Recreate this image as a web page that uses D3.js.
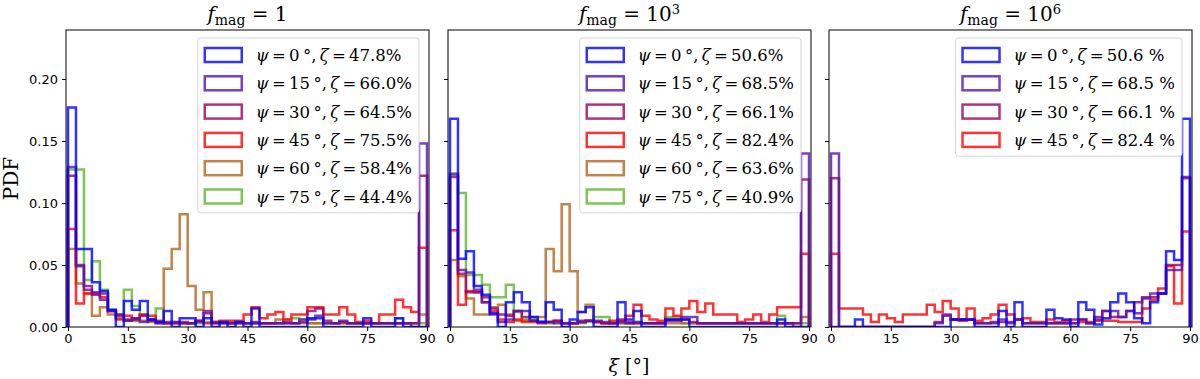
<!DOCTYPE html>
<html lang="en">
<head>
<meta charset="UTF-8">
<title>PDF of xi for three values of f_mag</title>
<style>
  html, body { margin: 0; padding: 0; background: #fff; }
  svg { display: block; }
  .tick text { font-family: "DejaVu Sans", sans-serif; font-size: 13px; fill: #000; }
  .tick line { stroke: #000; }
  .math { font-family: "DejaVu Serif", serif; fill: #000; }
</style>
</head>
<body>
<svg id="chart" width="1200" height="379"></svg>
<script src="https://cdn.jsdelivr.net/npm/d3@7"></script>
<script>
// histogram bins: 2 degree wide, 0..90
const binEdges = d3.range(0, 92, 2);

// f_mag = 1
const mag1_psi0  = [.177,.063,.063,.036,.029,.014,0,.021,.014,.021,.006,.004,.013,0,.007,.007,0,.007,0,.004,0,.004,0,.015,0,0,0,0,0,0,.007,.007,0,0,0,0,0,.007,0,0,0,.007,0,0,0];
const mag1_psi15 = [.129,.049,.033,.028,.022,.013,.009,.005,.007,.004,.006,.003,.004,.003,.003,.003,.004,.011,.003,.003,.003,.004,.003,.003,.003,.003,.003,.003,.003,.006,.006,.009,.003,.003,.005,.003,.003,.003,.003,.003,.003,.003,.003,0,.148];
const mag1_psi30 = [.122,.05,.03,.026,.027,.013,.01,.006,.006,.009,.005,.004,.003,.004,.004,.003,.005,.013,.004,.003,.003,.003,.003,.004,.003,.003,.003,.004,.003,.004,.013,.015,.005,.003,.004,.003,.003,.003,.003,.003,.003,.003,.003,.003,.122];
const mag1_psi45 = [.079,.019,.027,.027,.024,.013,.006,.009,.007,.01,.009,.005,.003,.003,.003,.003,.005,.003,.003,.005,.005,.005,.01,.016,.007,.01,.012,.006,.01,.01,.016,.016,.01,.01,.016,.01,.004,.005,.003,.01,.01,.022,.016,.012,.064];
const mag1_psi60 = [.063,.035,.027,.009,.016,.01,.007,.005,.005,.005,.004,.003,.047,.063,.091,.033,.014,.028,.004,.004,.003,.003,.003,.003,.003,.003,.006,.003,.003,.003,.003,.003,.003,.003,.003,.003,.003,.003,.003,.003,.003,.003,.003,.003,.01];
const mag1_psi75 = [.127,.127,.038,.053,.03,.014,.01,.03,.017,.01,.006,.015,.003,.004,.003,.003,.003,.004,.004,.004,.003,.003,.003,.003,.003,.003,.003,.006,.007,.006,.003,.003,.003,.003,.003,.003,.003,.003,.003,.003,.003,.007,.003,.003,.003];
const mag1_zeta = ["47.8%", "66.0%", "64.5%", "75.5%", "58.4%", "44.4%"];

// f_mag = 10^3
const mag3_psi0  = [.168,.055,.061,.033,.026,.011,0,.02,.028,.02,.008,.004,.02,.014,0,.006,.012,.016,0,0,0,.02,.006,.013,0,0,0,.006,.006,.006,0,0,0,0,0,0,0,0,0,0,0,.006,0,0,0];
const mag3_psi15 = [.123,.046,.044,.03,.02,.01,.004,.006,.013,.013,.005,.004,.004,.003,.003,.003,.004,.005,.005,.004,.003,.004,.003,.004,.003,.003,.003,.006,.006,.008,.008,.003,.003,.003,.003,.003,.003,.003,.003,.003,.003,.003,.003,0,.14];
const mag3_psi30 = [.121,.043,.028,.028,.024,.015,.01,.009,.013,.008,.005,.004,.004,.005,.003,.003,.005,.005,.004,.003,.003,.006,.004,.003,.003,.003,.003,.005,.005,.006,.004,.003,.003,.003,.003,.003,.003,.003,.003,.003,.003,.003,.003,.003,.119];
const mag3_psi45 = [.078,.018,.029,.028,.02,.013,.006,.004,.006,.004,.004,.003,.004,.005,.003,.003,.004,.005,.004,.003,.005,.005,.009,.018,.009,.006,.005,.015,.009,.015,.021,.012,.019,.01,.01,.01,.004,.006,.01,.004,.01,.016,.016,.016,.059];
const mag3_psi60 = [.054,.041,.023,.01,.01,.016,.018,.01,.005,.005,.008,.008,.063,.045,.099,.045,.012,.018,.004,.003,.003,.003,.003,.003,.003,.003,.003,.003,.003,.003,.003,.003,.003,.003,.003,.003,.003,.003,.003,.003,.003,.003,.003,.003,.008];
const mag3_psi75 = [.124,.108,.042,.042,.034,.024,.024,.034,.012,.006,.006,.004,.003,.004,.003,.003,.003,.004,.008,.008,.003,.003,.003,.004,.003,.003,.003,.008,.008,.003,.003,.003,.003,.003,.003,.003,.003,.003,.003,.003,.003,.009,.003,.003,.003];
const mag3_zeta = ["50.6%", "68.5%", "66.1%", "82.4%", "63.6%", "40.9%"];

// f_mag = 10^6
const mag6_psi0  = [0,0,0,.006,0,0,0,0,0,0,0,0,0,0,0,.006,.006,.006,0,0,0,.013,0,.02,0,0,0,.014,.007,.006,0,.02,.014,.002,.007,.02,.027,.02,.007,.003,.02,.027,.061,.054,.168];
const mag6_psi15 = [.14,0,0,0,0,0,0,0,0,0,0,0,0,.003,.009,.006,.006,.006,.003,.003,.003,.006,.003,.006,.003,.003,.003,.003,.003,.003,.003,.006,.003,.006,.013,.013,.008,.013,.011,.023,.027,.027,.046,.046,.121];
const mag6_psi30 = [.12,0,0,0,0,0,0,0,0,0,0,0,0,.004,.01,.006,.006,.006,.003,.003,.004,.004,.004,.006,.003,.003,.003,.003,.003,.003,.006,.006,.003,.008,.013,.008,.008,.013,.02,.024,.024,.027,.05,.05,.12];
const mag6_psi45 = [.059,.015,.015,.015,.01,.004,.01,.007,.004,.01,.01,.01,.018,.012,.021,.015,.005,.015,.005,.007,.01,.018,.01,.006,.007,.004,.004,.006,.004,.005,.003,.004,.004,.005,.005,.005,.004,.004,.004,.015,.022,.031,.049,.019,.077];
const mag6_zeta = ["50.6 %", "68.5 %", "66.1 %", "82.4 %"];

const psiAngles = [0, 15, 30, 45, 60, 75];
const seriesColors = ["#0000ff", "#5a10b0", "#990066", "#ff0000", "#b0661c", "#5cb82a"];

const yTicks = [0, 0.05, 0.10, 0.15, 0.20];
const xTicks = [0, 15, 30, 45, 60, 75, 90];

const panels = [
  { exp: null, series: [mag1_psi0, mag1_psi15, mag1_psi30, mag1_psi45, mag1_psi60, mag1_psi75], zeta: mag1_zeta, left: 66 },
  { exp: "3",  series: [mag3_psi0, mag3_psi15, mag3_psi30, mag3_psi45, mag3_psi60, mag3_psi75], zeta: mag3_zeta, left: 448 },
  { exp: "6",  series: [mag6_psi0, mag6_psi15, mag6_psi30, mag6_psi45], zeta: mag6_zeta, left: 829 }
];

const panelW = 363, plotTop = 30, plotBottom = 327;
const thin = "\u2009";
const svg = d3.select("#chart");

const y = d3.scaleLinear().domain([0, 0.2395]).range([plotBottom, plotTop]);

panels.forEach((p, pi) => {
  const x = d3.scaleLinear().domain([-0.5, 90.5]).range([p.left, p.left + panelW]);
  const g = svg.append("g");

  const clipId = "clip" + pi;
  g.append("clipPath").attr("id", clipId)
    .append("rect").attr("x", p.left).attr("y", plotTop).attr("width", panelW).attr("height", plotBottom - plotTop);

  // histograms, drawn last-to-first so psi=0 ends up on top
  const line = d3.line().x(d => x(d[0])).y(d => y(d[1]));
  const order = d3.range(p.series.length).reverse();
  order.forEach(si => {
    const vals = p.series[si];
    const pts = [[binEdges[0], 0]];
    vals.forEach((v, i) => { pts.push([binEdges[i], v]); pts.push([binEdges[i + 1], v]); });
    pts.push([binEdges[binEdges.length - 1], 0]);
    g.append("path")
      .attr("clip-path", `url(#${clipId})`)
      .attr("d", line(pts))
      .attr("fill", "none")
      .attr("stroke", seriesColors[si])
      .attr("stroke-opacity", 0.8)
      .attr("stroke-width", 2.5)
      .attr("stroke-linejoin", "miter");
  });

  // axes
  const xAxis = g.append("g").attr("transform", `translate(0,${plotBottom})`)
    .call(d3.axisBottom(x).tickValues(xTicks).tickSize(4).tickPadding(3));
  const yAxis = g.append("g").attr("transform", `translate(${p.left},0)`)
    .call(d3.axisLeft(y).tickValues(yTicks).tickSize(4).tickPadding(4)
      .tickFormat(pi === 0 ? d3.format(".2f") : () => ""));
  xAxis.select(".domain").remove();
  yAxis.select(".domain").remove();

  g.append("rect")
    .attr("x", p.left).attr("y", plotTop).attr("width", panelW).attr("height", plotBottom - plotTop)
    .attr("fill", "none").attr("stroke", "#000").attr("stroke-width", 1);

  // title f_mag = ...
  const t = g.append("text").attr("class", "math")
    .attr("x", p.left + panelW / 2).attr("y", 21)
    .attr("text-anchor", "middle").attr("font-size", 20);
  t.append("tspan").attr("font-style", "italic").text("f");
  t.append("tspan").attr("font-size", 14).attr("dy", 4).text("mag");
  if (p.exp) {
    t.append("tspan").attr("dy", -4).text(" = 10");
    t.append("tspan").attr("font-size", 13).attr("dy", -7).text(p.exp);
  } else {
    t.append("tspan").attr("dy", -4).text(" = 1");
  }

  // legend
  const n = p.series.length;
  const leg = g.append("g");
  const box = leg.append("rect")
    .attr("y", 38).attr("height", 28.3 * n + 5)
    .attr("rx", 3).attr("fill", "#fff").attr("fill-opacity", 0.85)
    .attr("stroke", "#d6d6d6").attr("stroke-width", 1);
  let maxW = 0;
  const rows = [];
  for (let i = 0; i < n; i++) {
    const cy = 55 + 28.3 * i;
    const patch = leg.append("rect")
      .attr("y", cy - 7).attr("width", 37).attr("height", 14)
      .attr("fill", "none").attr("stroke", seriesColors[i])
      .attr("stroke-opacity", 0.8).attr("stroke-width", 2.5);
    const tx = leg.append("text").attr("class", "math")
      .attr("y", cy + 6).attr("font-size", 16.5);
    tx.append("tspan").attr("font-style", "italic").text("ψ");
    tx.append("tspan").text(thin + "=" + thin + psiAngles[i] + thin + "°," + thin);
    tx.append("tspan").attr("font-style", "italic").text("ζ");
    tx.append("tspan").text(thin + "=" + thin + p.zeta[i]);
    maxW = Math.max(maxW, tx.node().getComputedTextLength());
    rows.push({ patch, tx });
  }
  const boxW = 58 + maxW + 7;
  const boxX = p.left + panelW - 10 - boxW;
  box.attr("x", boxX).attr("width", boxW);
  rows.forEach(r => {
    r.patch.attr("x", boxX + 7);
    r.tx.attr("x", boxX + 58);
  });
});

// shared labels
svg.append("text").attr("class", "math")
  .attr("transform", "translate(18,178.5) rotate(-90)")
  .attr("text-anchor", "middle").attr("font-size", 20).text("PDF");

const xl = svg.append("text").attr("class", "math")
  .attr("x", 629).attr("y", 372).attr("text-anchor", "middle").attr("font-size", 19);
xl.append("tspan").attr("font-style", "italic").text("ξ");
xl.append("tspan").text(" [°]");
</script>
</body>
</html>
